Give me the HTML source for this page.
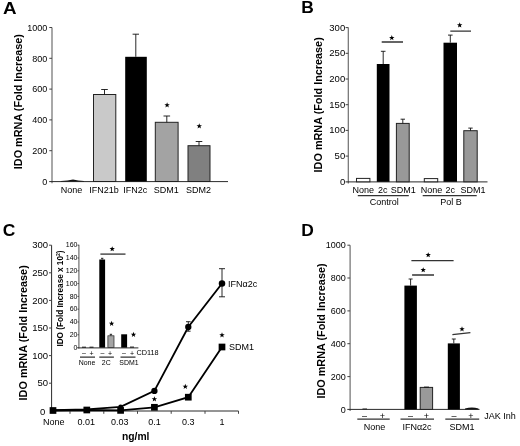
<!DOCTYPE html>
<html>
<head>
<meta charset="utf-8">
<title>Figure</title>
<style>
html,body{margin:0;padding:0;background:#fff;}
body{width:520px;height:446px;overflow:hidden;font-family:"Liberation Sans",sans-serif;}
svg{display:block;will-change:transform;filter:blur(0.35px);}
text{font-family:"Liberation Sans",sans-serif;fill:#000;}
.t{font-size:9px;}
.tl{font-size:9px;text-anchor:end;}
.c{text-anchor:middle;}
.yl{font-size:10.85px;font-weight:bold;fill:#000;}
.pl{font-size:17.4px;font-weight:bold;fill:#000;}
.ax{stroke:#555;stroke-width:1;fill:none;}
.ay{stroke:#6e6e6e;stroke-width:1.2;fill:none;}
.axx{stroke:#2a2a2a;stroke-width:1;fill:none;}
.tk{stroke:#444;stroke-width:1;fill:none;}
.eb{stroke:#111;stroke-width:0.9;fill:none;}
.sg{stroke:#333;stroke-width:1.3;fill:none;}
.st{font-size:10px;text-anchor:middle;fill:#000;}
.in{font-size:6.95px;}
.inl{font-size:7px;text-anchor:end;}
</style>
</head>
<body>
<svg width="520" height="446" viewBox="0 0 520 446">
<rect width="520" height="446" fill="#fff"/>
<defs><path id="s" d="M0,-2.85L0.705,-0.971L2.71,-0.88L1.141,0.371L1.675,2.306L0,1.2L-1.675,2.306L-1.141,0.371L-2.71,-0.88L-0.705,-0.971Z" fill="#000"/></defs>

<!-- ================= PANEL A ================= -->
<g id="A">
<text class="pl" transform="translate(2.9,13.9) scale(1.08,1)">A</text>
<text class="yl" transform="translate(22,169.2) rotate(-90)">IDO mRNA (Fold Increase)</text>
<path class="ay" d="M52 27.5V183.3"/><path class="axx" d="M49.2 181.6H228"/><path class="tk" d="M49.3 27.5H52 M49.3 58.3H52 M49.3 89.1H52 M49.3 119.9H52 M49.3 150.7H52"/>
<text class="tl" x="47.3" y="30.7">1000</text>
<text class="tl" x="47.3" y="61.5">800</text>
<text class="tl" x="47.3" y="92.3">600</text>
<text class="tl" x="47.3" y="123.1">400</text>
<text class="tl" x="47.3" y="153.9">200</text>
<text class="tl" x="47.3" y="184.7">0</text>
<!-- bars -->
<path d="M61 181.6H84V180.9Q78 180.6 73 179.5Q68 180.6 61 180.9Z" fill="#111"/>
<rect x="93.5" y="94.5" width="22.3" height="87" fill="#c9c9c9" stroke="#222" stroke-width="1"/>
<path class="eb" d="M104.5 94.5V89.5M101.2 89.5H107.8"/>
<rect x="125.2" y="56.8" width="21.6" height="124.7" fill="#000"/>
<path class="eb" d="M135.8 56.8V34.2M132.6 34.2H139"/>
<rect x="155.3" y="122.3" width="22.8" height="59.2" fill="#a3a3a3" stroke="#222" stroke-width="1"/>
<path class="eb" d="M166.8 122.3V116M163.5 116H170.1"/>
<rect x="188" y="145.7" width="22" height="35.8" fill="#808080" stroke="#222" stroke-width="1"/>
<path class="eb" d="M199 145.7V141.5M195.7 141.5H202.3"/>
<use href="#s" x="167.1" y="105.1"/>
<use href="#s" x="199.25" y="126.1"/>
<text class="t c" x="71.6" y="193.2">None</text>
<text class="t c" x="104.1" y="193.2">IFN21b</text>
<text class="t c" x="135.3" y="193.2">IFN2c</text>
<text class="t c" x="166.2" y="193.2">SDM1</text>
<text class="t c" x="198.4" y="193.2">SDM2</text>
</g>

<!-- ================= PANEL B ================= -->
<g id="B">
<text class="pl" x="301.2" y="13.4">B</text>
<text class="yl" transform="translate(322.3,172.4) rotate(-90)">IDO mRNA (Fold Increase)</text>
<path class="ay" d="M348.3 27.6V183.5"/><path class="axx" d="M345.5 181.9H487.5"/><path class="tk" d="M345.6 27.6H348.3 M345.6 53.3H348.3 M345.6 79H348.3 M345.6 104.7H348.3 M345.6 130.4H348.3 M345.6 156.1H348.3"/>
<text class="tl" x="345.2" y="30.6" style="font-size:9.5px">300</text>
<text class="tl" x="345.2" y="56.3" style="font-size:9.5px">250</text>
<text class="tl" x="345.2" y="82.0" style="font-size:9.5px">200</text>
<text class="tl" x="345.2" y="107.7" style="font-size:9.5px">150</text>
<text class="tl" x="345.2" y="133.4" style="font-size:9.5px">100</text>
<text class="tl" x="345.2" y="159.1" style="font-size:9.5px">50</text>
<text class="tl" x="345.2" y="184.8" style="font-size:9.5px">0</text>
<!-- control -->
<rect x="356.5" y="178.4" width="13.4" height="3.4" fill="#fff" stroke="#222" stroke-width="1"/>
<rect x="376.8" y="64" width="12.7" height="117.8" fill="#000"/>
<path class="eb" d="M383.2 64V51.3M380.9 51.3H385.5"/>
<rect x="396.4" y="123.4" width="12.8" height="58.4" fill="#999" stroke="#222" stroke-width="1"/>
<path class="eb" d="M402.8 123.4V119.2M400.6 119.2H405"/>
<!-- pol b -->
<rect x="424.3" y="178.6" width="13.4" height="3.2" fill="#fff" stroke="#222" stroke-width="1"/>
<rect x="443.5" y="42.7" width="13.5" height="139.1" fill="#000"/>
<path class="eb" d="M450.3 42.7V35.1M448 35.1H452.6"/>
<rect x="463.8" y="130.7" width="13.4" height="51.1" fill="#999" stroke="#222" stroke-width="1"/>
<path class="eb" d="M470.5 130.7V128.1M468.3 128.1H472.7"/>
<!-- sig -->
<path class="sg" d="M381.7 42H403 M450.3 31.2H471"/>
<use href="#s" x="391.8" y="37.9"/>
<use href="#s" x="459.7" y="25.2"/>
<!-- labels -->
<text class="t c" x="363.3" y="192.5">None</text>
<text class="t c" x="382.7" y="192.5">2c</text>
<text class="t c" x="403.2" y="192.5">SDM1</text>
<text class="t c" x="431.6" y="192.5">None</text>
<text class="t c" x="450.3" y="192.5">2c</text>
<text class="t c" x="473" y="192.5">SDM1</text>
<path class="sg" d="M357.8 195.7H408.8 M422.7 195.7H476.7"/>
<text class="t c" x="384.2" y="205">Control</text>
<text class="t c" x="451" y="205">Pol B</text>
</g>

<!-- ================= PANEL C ================= -->
<g id="C">
<text class="pl" x="2.7" y="235.7">C</text>
<text class="yl" transform="translate(27,400.4) rotate(-90)">IDO mRNA (Fold Increase)</text>
<path class="axx" d="M51.6 245.2V411H238.5"/><path class="tk" d="M49 245.2H51.6 M49 272.8H51.6 M49 300.4H51.6 M49 328H51.6 M49 355.6H51.6 M49 383.2H51.6 M70 411V413.8 M103.8 411V413.8 M137.5 411V413.8 M171.2 411V413.8 M205 411V413.8 M238.5 411V413.8"/>
<text class="tl" x="48" y="248.3" style="font-size:9.5px">300</text>
<text class="tl" x="48" y="275.9" style="font-size:9.5px">250</text>
<text class="tl" x="48" y="303.5" style="font-size:9.5px">200</text>
<text class="tl" x="48" y="331.1" style="font-size:9.5px">150</text>
<text class="tl" x="48" y="358.7" style="font-size:9.5px">100</text>
<text class="tl" x="48" y="386.3" style="font-size:9.5px">50</text>
<text class="tl" x="45.2" y="414.8" style="font-size:9.5px">0</text>
<!-- lines -->
<polyline points="53,410.2 86.8,409.4 120.6,406.9 154.4,390.9 188.3,327 222,283.5" fill="none" stroke="#000" stroke-width="1.85"/>
<polyline points="53,410.5 86.8,410 120.6,410.4 154.4,407.3 188.3,397.2 222,347" fill="none" stroke="#000" stroke-width="1.85"/>
<path class="eb" d="M222 268.7V296.8M219 268.7H225M219 296.8H225 M188.3 321.7V331.2M186 321.7H190.6M186 331.2H190.6"/>
<circle cx="120.6" cy="406.9" r="2.4"/>
<circle cx="154.4" cy="390.9" r="3.15"/>
<circle cx="188.3" cy="327" r="3.15"/>
<circle cx="222" cy="283.5" r="3.25"/>
<rect x="49.65" y="407.15" width="6.7" height="6.7"/>
<rect x="83.45" y="406.65" width="6.7" height="6.7"/>
<rect x="117.25" y="407.05" width="6.7" height="6.7"/>
<rect x="151.05" y="403.95" width="6.7" height="6.7"/>
<rect x="184.95" y="393.85" width="6.7" height="6.7"/>
<rect x="218.65" y="343.65" width="6.7" height="6.7"/>
<use href="#s" x="154.4" y="399.1"/>
<use href="#s" x="185.3" y="386.6"/>
<use href="#s" x="222" y="335.1"/>
<text class="t" x="228" y="286.8" style="font-size:9px">IFN&#945;2c</text>
<text class="t" x="229" y="350.3" style="font-size:9px">SDM1</text>
<text class="t c" x="53.7" y="424.5" style="font-size:9px">None</text>
<text class="t c" x="86.2" y="424.5" style="font-size:9px">0.01</text>
<text class="t c" x="119.8" y="424.5" style="font-size:9px">0.03</text>
<text class="t c" x="154.4" y="424.5" style="font-size:9px">0.1</text>
<text class="t c" x="188.2" y="424.5" style="font-size:9px">0.3</text>
<text class="t c" x="222" y="424.5" style="font-size:9px">1</text>
<text x="122" y="440" style="font-size:10.3px;font-weight:bold;fill:#000">ng/ml</text>

<!-- inset -->
<text transform="translate(62.9,346.6) rotate(-90)" style="font-size:8.2px;font-weight:bold;fill:#000">IDO (Fold Increase x 10<tspan dy="-2.8" style="font-size:5.2px">2</tspan><tspan dy="2.8">)</tspan></text>
<path class="ay" d="M78.9 244.8V348.4"/><path class="axx" d="M77.5 347.9H138.4"/><path class="tk" d="M77.5 245.2H78.9 M77.5 258.0H78.9 M77.5 270.8H78.9 M77.5 283.6H78.9 M77.5 296.4H78.9 M77.5 309.2H78.9 M77.5 322.0H78.9 M77.5 334.8H78.9 M77.5 347.6H78.9"/>
<text class="inl" x="77.5" y="247.4">160</text>
<text class="inl" x="77.5" y="260.2">140</text>
<text class="inl" x="77.5" y="273.0">120</text>
<text class="inl" x="77.5" y="285.8">100</text>
<text class="inl" x="77.5" y="298.6">80</text>
<text class="inl" x="77.5" y="311.4">60</text>
<text class="inl" x="77.5" y="324.2">40</text>
<text class="inl" x="77.5" y="337.0">20</text>
<text class="inl" x="77.5" y="349.8">0</text>
<rect x="99.3" y="259.5" width="5.8" height="88.1" fill="#000"/>
<path class="eb" d="M102.2 259.5V258.3M101 258.3H103.4"/>
<rect x="107.9" y="335.8" width="6.1" height="11.8" fill="#a4a4a4" stroke="#222" stroke-width="0.7"/>
<path class="eb" d="M110.9 335.8V334.3M109.7 334.3H112.1"/>
<rect x="121.2" y="334.3" width="5.9" height="13.3" fill="#000"/>
<path d="M82 347.2H86 M89.5 347.2H93.5 M130 347.1H134" stroke="#111" stroke-width="1"/>
<path class="sg" d="M100.4 254.1H125.5"/>
<use href="#s" x="112.2" y="249"/>
<use href="#s" x="111.6" y="323.6"/>
<use href="#s" x="133.5" y="334.6"/>
<g class="in" style="font-size:7px">
<text class="c" x="83.9" y="355.2">&#8211;</text><text class="c" x="91.6" y="355.5">+</text>
<text class="c" x="102.4" y="355.2">&#8211;</text><text class="c" x="110" y="355.5">+</text>
<text class="c" x="124" y="355.2">&#8211;</text><text class="c" x="132" y="355.5">+</text>
</g>
<text class="in" x="136.5" y="355.4" style="font-size:7.3px">CD118</text>
<path class="sg" d="M80 357.2H95 M99.3 357.2H113.9 M120.5 357.2H135.5"/>
<text class="in c" x="87" y="364.5">None</text>
<text class="in c" x="106.3" y="364.5">2C</text>
<text class="in c" x="129" y="364.5">SDM1</text>
</g>

<!-- ================= PANEL D ================= -->
<g id="D">
<text class="pl" x="301.3" y="235.7">D</text>
<text class="yl" transform="translate(324.7,398.6) rotate(-90)">IDO mRNA (Fold Increase)</text>
<path class="ay" d="M350.1 245.2V411"/><path class="axx" d="M347.3 409.4H479.5"/><path class="tk" d="M347.4 245.2H350.1 M347.4 278H350.1 M347.4 310.9H350.1 M347.4 343.7H350.1 M347.4 376.6H350.1"/>
<text class="tl" x="345.8" y="248.4">1000</text>
<text class="tl" x="345.8" y="281.2">800</text>
<text class="tl" x="345.8" y="314.1">600</text>
<text class="tl" x="345.8" y="346.9">400</text>
<text class="tl" x="345.8" y="379.8">200</text>
<text class="tl" x="345.8" y="412.6">0</text>
<rect x="404.4" y="285.6" width="12.5" height="123.8" fill="#000"/>
<path class="eb" d="M410.6 285.6V279M408.6 279H412.6"/>
<rect x="420.2" y="387.4" width="12.4" height="22" fill="#999" stroke="#222" stroke-width="1"/>
<path class="eb" d="M424 387.1H429"/>
<rect x="447.8" y="343.4" width="12.1" height="66" fill="#000"/>
<path class="eb" d="M453.8 343.4V339M451.8 339H455.8"/>
<path d="M465 409.6H478.4V408.4Q472 406.6 465 408.4Z" fill="#111"/>
<path d="M362.5 409H367" stroke="#222" stroke-width="1"/>
<path class="sg" d="M411.4 260.7H453.6 M412.1 275H434 M452.4 334.7L470.4 332.6"/>
<use href="#s" x="428.2" y="255"/>
<use href="#s" x="423.2" y="270"/>
<use href="#s" x="462" y="329.1"/>
<g class="t">
<text class="c" x="364.4" y="418.6">&#8211;</text><text class="c" x="382.5" y="419">+</text>
<text class="c" x="410.6" y="418.6">&#8211;</text><text class="c" x="426.4" y="419">+</text>
<text class="c" x="454" y="418.6">&#8211;</text><text class="c" x="470.9" y="419">+</text>
</g>
<text class="t" x="484.2" y="418.9">JAK Inh</text>
<path class="sg" d="M357.3 419.2H389.7 M400.5 419.2H434 M445.3 419.2H479.2"/>
<text class="t c" x="374.5" y="429.5">None</text>
<text class="t c" x="417" y="429.5">IFN&#945;2c</text>
<text class="t c" x="461.9" y="429.5">SDM1</text>
</g>
</svg>
</body>
</html>
